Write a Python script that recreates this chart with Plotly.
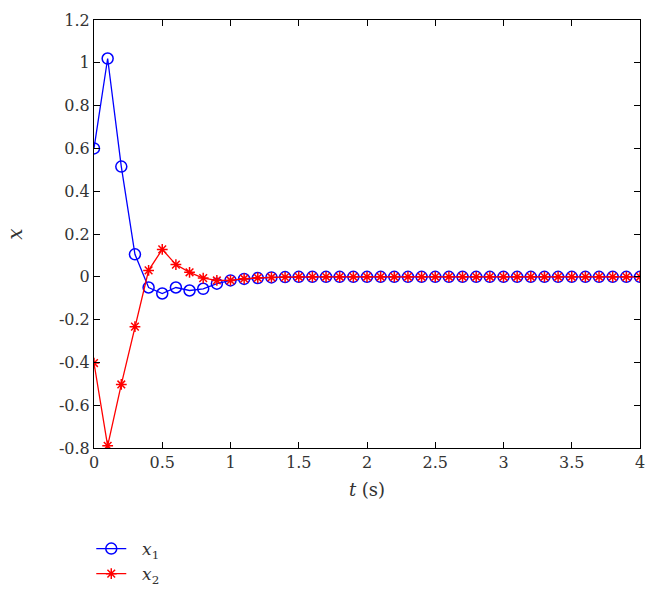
import plotly.graph_objects as go

t = [round(0.1 * i, 1) for i in range(41)]
x1_head = [0.6, 1.02, 0.515, 0.105, -0.05, -0.078, -0.05, -0.064, -0.056, -0.032, -0.017, -0.01, -0.006, -0.003, -0.0015]
x2_head = [-0.403, -0.79, -0.503, -0.233, 0.03, 0.128, 0.057, 0.021, -0.006, -0.017, -0.017, -0.009, -0.005, -0.003, -0.0015]
x1 = x1_head + [0.0] * (41 - len(x1_head))
x2 = x2_head + [0.0] * (41 - len(x2_head))

xtick_vals = [0, 0.5, 1, 1.5, 2, 2.5, 3, 3.5, 4]
xtick_text = ["0", "0.5", "1", "1.5", "2", "2.5", "3", "3.5", "4"]
ytick_vals = [1.2, 1, 0.8, 0.6, 0.4, 0.2, 0, -0.2, -0.4, -0.6, -0.8]
ytick_text = ["1.2", "1", "0.8", "0.6", "0.4", "0.2", "0", "-0.2", "-0.4", "-0.6", "-0.8"]

font_family = "DejaVu Serif"

fig = go.Figure()
fig.add_trace(go.Scatter(
    x=t, y=x1, mode="lines+markers", name="&nbsp;&nbsp;<i>x</i><sub>1</sub>",
    line=dict(color="#0000ff", width=1.3),
    marker=dict(symbol="circle-open", size=11, color="#0000ff", line=dict(width=1.5)),
))
fig.add_trace(go.Scatter(
    x=t, y=x2, mode="lines+markers", name="&nbsp;&nbsp;<i>x</i><sub>2</sub>",
    line=dict(color="#ff0000", width=1.3),
    marker=dict(symbol="asterisk-open", size=9, color="#ff0000", line=dict(width=1.5, color="#ff0000")),
))

axis_common = dict(
    showline=True, linecolor="black", linewidth=1, mirror="ticks",
    ticks="inside", ticklen=6, tickcolor="black", showgrid=False, zeroline=False,
    tickfont=dict(family=font_family, size=16, color="#333333"), automargin=False,
)

# plot area: left 94, right 640, top 20, bottom 448 (pixels)
M_B = 0
plot_h = 600 - 20 - M_B
y_dom0 = (600 - M_B - 448) / plot_h

fig.update_layout(
    width=654, height=600,
    margin=dict(l=94, r=14, t=20, b=M_B, pad=0),
    paper_bgcolor="white", plot_bgcolor="white",
    font=dict(family=font_family, color="#333333"),
    xaxis=dict(range=[0, 4], tickvals=xtick_vals, ticktext=xtick_text,
               title=dict(text="<i>t</i> (s)", font=dict(size=18), standoff=12), **axis_common),
    yaxis=dict(range=[-0.8, 1.2], tickvals=ytick_vals, ticktext=ytick_text, domain=[y_dom0, 1],
               title=dict(text="<i>x</i>", font=dict(size=20), standoff=30), **axis_common),
    showlegend=True,
    legend=dict(x=-0.005, y=(600 - M_B - 531) / plot_h, xanchor="left", yanchor="top",
                font=dict(family=font_family, size=17, color="#333333"),
                bgcolor="rgba(0,0,0,0)", tracegroupgap=0, itemwidth=30),
)

fig.write_html("out.html")
